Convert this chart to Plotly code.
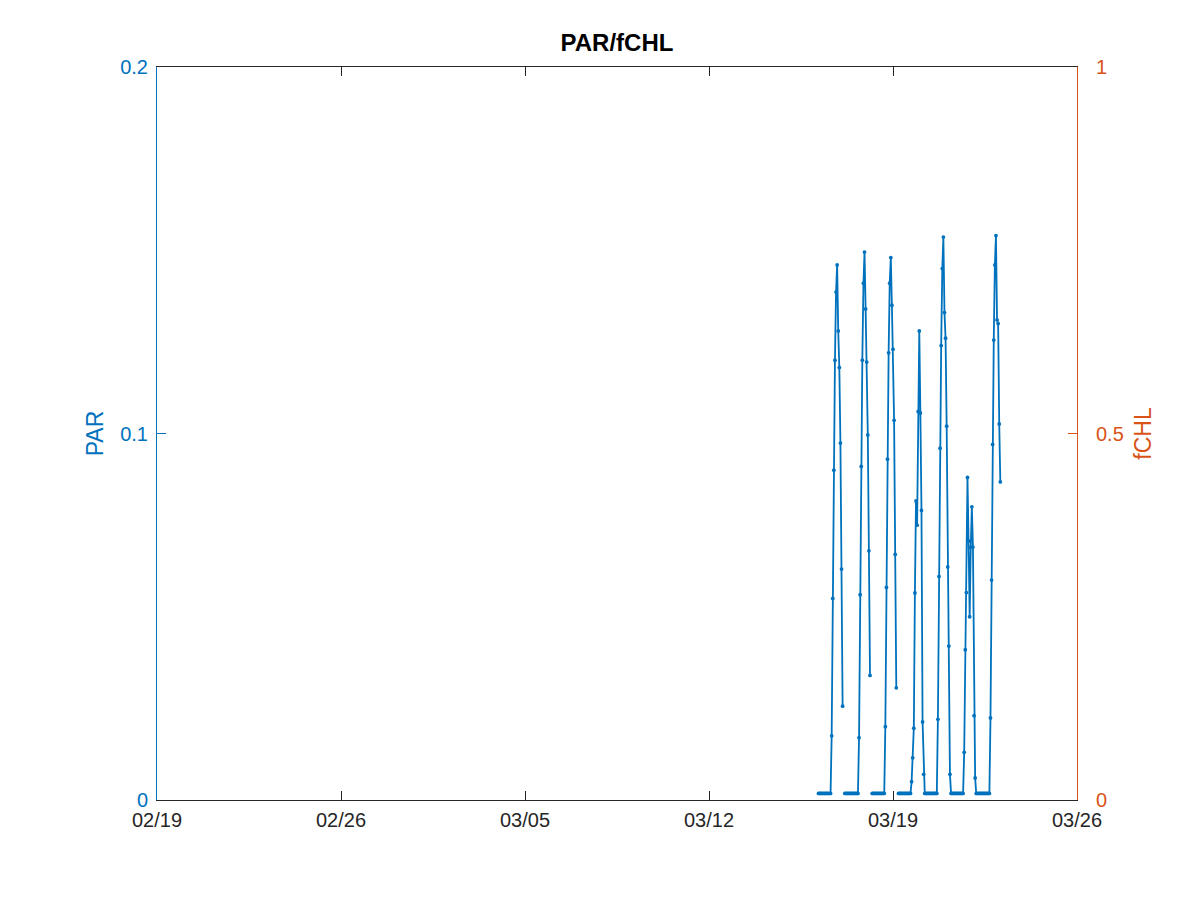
import pandas as pd
import plotly.graph_objects as go

BLUE = "#0072BD"
ORANGE = "#D95319"
DARK = "#262626"

N = 0.0018  # night-time baseline reading
G = None    # gap in record

# hourly samples starting 2019-03-16 04:00
par_values = (
    # 03/16 night + day 1
    [N] * 12 + [0.0175, 0.055, 0.090, 0.120, 0.1386, 0.146, 0.128, 0.118, 0.0974, 0.063, 0.0256]
    + [G]
    # 03/17 night + day 2
    + [N] * 13 + [0.017, 0.056, 0.091, 0.120, 0.141, 0.1495, 0.134, 0.1195, 0.0996, 0.068, 0.034]
    + [G]
    # 03/18 night + day 3
    + [N] * 12 + [0.020, 0.058, 0.093, 0.122, 0.141, 0.148, 0.135, 0.123, 0.1036, 0.067, 0.0306]
    + [G]
    # 03/19 night + day 4
    + [N] * 12 + [0.005, 0.0115, 0.0196, 0.0565, 0.0816, 0.075, 0.106, 0.128, 0.1056, 0.079, 0.0213, 0.007]
    # 03/20 night + day 5
    + [N] * 12 + [0.022, 0.061, 0.096, 0.124, 0.145, 0.1536, 0.133, 0.126, 0.102, 0.0636, 0.042, 0.007]
    # 03/21 night + day 6
    + [N] * 12 + [0.013, 0.041, 0.0566, 0.088, 0.0707, 0.050, 0.069, 0.080, 0.069, 0.023, 0.006]
    # 03/22 night + day 7
    + [N] * 13 + [0.0224, 0.060, 0.097, 0.1255, 0.146, 0.154, 0.131, 0.130, 0.1026, 0.0868]
)
start_time = "2019-03-16 04:00"
times = pd.date_range(start_time, periods=len(par_values), freq="h")

tick_dates = ["2019-02-19", "2019-02-26", "2019-03-05", "2019-03-12", "2019-03-19", "2019-03-26"]
tick_text = ["02/19", "02/26", "03/05", "03/12", "03/19", "03/26"]
par_ticks = [0, 0.1, 0.2]
par_tick_text = ["0", "0.1", "0.2"]
fchl_ticks = [0, 0.5, 1]
fchl_tick_text = ["0", "0.5", "1"]

fig = go.Figure()
fig.add_trace(go.Scatter(
    x=times, y=par_values, mode="lines+markers",
    line=dict(color=BLUE, width=1.8),
    marker=dict(color=BLUE, size=3.8),
    connectgaps=False, showlegend=False, yaxis="y",
))
fig.add_trace(go.Scatter(x=[], y=[], yaxis="y2", showlegend=False, mode="lines"))

font = "Liberation Sans, Arial, Helvetica, sans-serif"
TICK = 20
LAB = 23
fig.update_layout(
    width=1200, height=900,
    paper_bgcolor="white", plot_bgcolor="white",
    margin=dict(l=149, r=131, t=59, b=108),
    font=dict(family=font, size=TICK, color=DARK),
    title=dict(text="<b>PAR/fCHL</b>", xref="paper", x=0.5, xanchor="center",
               y=1 - 35 / 900, yanchor="middle",
               font=dict(size=24, color="#000000", family=font)),
    xaxis=dict(
        type="date", range=["2019-02-19", "2019-03-26"],
        tickmode="array", tickvals=tick_dates, ticktext=tick_text,
        ticks="inside", ticklen=9, tickcolor=DARK, tickwidth=1,
        showline=True, linecolor=DARK, linewidth=1, mirror="ticks",
        showgrid=False, zeroline=False,
        tickfont=dict(size=TICK, color=DARK, family=font),
        ticklabelstandoff=2,
    ),
    yaxis=dict(
        range=[0, 0.2], tickmode="array", tickvals=par_ticks, ticktext=par_tick_text,
        ticks="inside", ticklen=9, tickcolor=BLUE, tickwidth=1,
        showline=True, linecolor=BLUE, linewidth=1,
        showgrid=False, zeroline=False,
        tickfont=dict(size=TICK, color=BLUE, family=font),
        ticklabelstandoff=4,
        title=dict(text="PAR", font=dict(size=LAB, color=BLUE, family=font), standoff=10),
    ),
    yaxis2=dict(
        range=[0, 1], overlaying="y", side="right", anchor="x",
        tickmode="array", tickvals=fchl_ticks, ticktext=fchl_tick_text,
        ticks="inside", ticklen=9, tickcolor=ORANGE, tickwidth=1,
        showline=True, linecolor=ORANGE, linewidth=1,
        showgrid=False, zeroline=False,
        tickfont=dict(size=TICK, color=ORANGE, family=font),
        ticklabelstandoff=14,
        title=dict(text="fCHL", font=dict(size=LAB, color=ORANGE, family=font), standoff=12),
    ),
)

fig.write_html("out.html")
